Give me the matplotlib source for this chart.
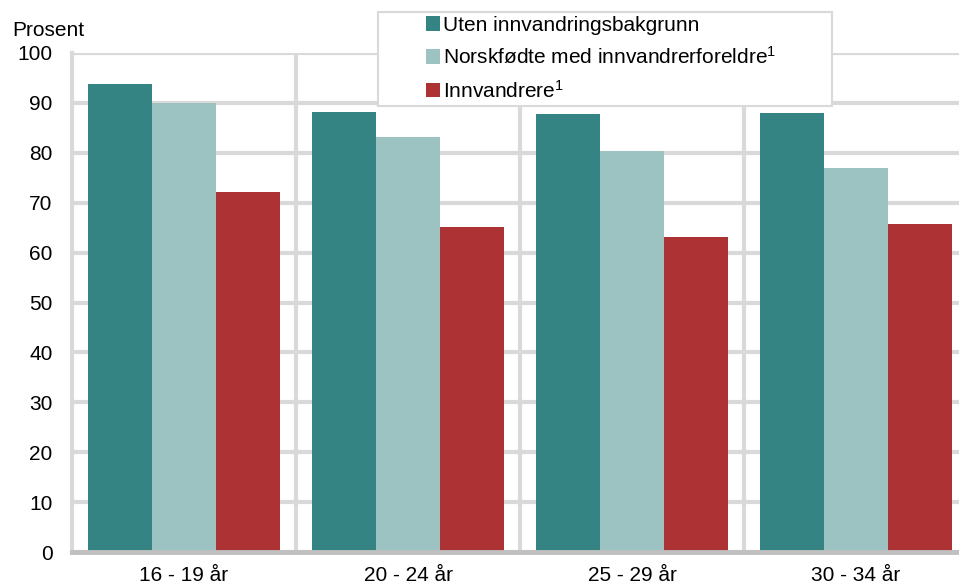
import matplotlib
matplotlib.use("Agg")
import matplotlib.pyplot as plt
from matplotlib.patches import Patch, Rectangle
import numpy as np

plt.rcParams['font.family'] = ['Liberation Sans', 'DejaVu Sans']
plt.rcParams['mathtext.default'] = 'regular'

categories = ["16 - 19 år", "20 - 24 år", "25 - 29 år", "30 - 34 år"]
series_names = ["Uten innvandringsbakgrunn",
                "Norskfødte med innvandrerforeldre$^{1}$",
                "Innvandrere$^{1}$"]
uten = [93.8, 88.2, 87.8, 88.0]
norskfodte = [89.9, 83.2, 80.4, 77.0]
innvandrere = [72.1, 65.1, 63.1, 65.8]
colors = ["#338482", "#9dc2c2", "#ad3233"]
y_ticks = [0, 10, 20, 30, 40, 50, 60, 70, 80, 90, 100]

W, H = 959, 585
fig = plt.figure(figsize=(W / 100, H / 100), dpi=100)
ax = fig.add_axes([72 / W, 1 - 552 / H, 896 / W, (552 - 53) / H])

x = np.arange(len(categories))
bw = 64 / 224
for i, (vals, c) in enumerate(zip([uten, norskfodte, innvandrere], colors)):
    ax.bar(x + (i - 1) * bw, vals, width=bw, color=c, zorder=3, linewidth=0)

ax.set_xlim(-0.5, len(categories) - 0.5)
ax.set_ylim(0, 100)
ax.set_yticks(y_ticks)
ax.set_xticks(x)
ax.set_xticklabels(categories, fontsize=15)
ax.set_xticks(x[:-1] + 0.5, minor=True)
ax.tick_params(axis='y', length=0, pad=14, labelsize=15)
ax.tick_params(axis='x', which='both', length=0, pad=10)
ax.grid(axis='y', which='major', color='#d9d9d9', linewidth=3, zorder=1)
ax.grid(axis='x', which='minor', color='#d9d9d9', linewidth=3, zorder=1)
ax.grid(axis='x', which='major', visible=False)
for s in ['top', 'right']:
    ax.spines[s].set_visible(False)
ax.spines['left'].set_color('#d9d9d9')
ax.spines['left'].set_linewidth(3)
ax.spines['left'].set_zorder(1)
ax.spines['bottom'].set_color('#c0c0c0')
ax.spines['bottom'].set_linewidth(3.5)
ax.spines['bottom'].set_zorder(4)

fig.text(12 / W, 1 - 30 / H, "Prosent", fontsize=15, ha='left', va='center')

# legend box
rect = Rectangle((378 / W, 1 - 106 / H), (832 - 378) / W, (106 - 12) / H,
                 transform=fig.transFigure, facecolor='white', edgecolor='#d9d9d9',
                 linewidth=1.5, zorder=10)
fig.add_artist(rect)
handles = [Patch(facecolor=c, edgecolor='none') for c in colors]
leg = fig.legend(handles, series_names, loc='upper left',
                 bbox_to_anchor=(409 / W, 1 + 1 / H), frameon=False,
                 fontsize=15, handlelength=0.7, handleheight=0.7,
                 handletextpad=0.15, labelspacing=0.55, borderpad=0.3)
leg.set_zorder(11)

fig.savefig("out.png", dpi=100)
